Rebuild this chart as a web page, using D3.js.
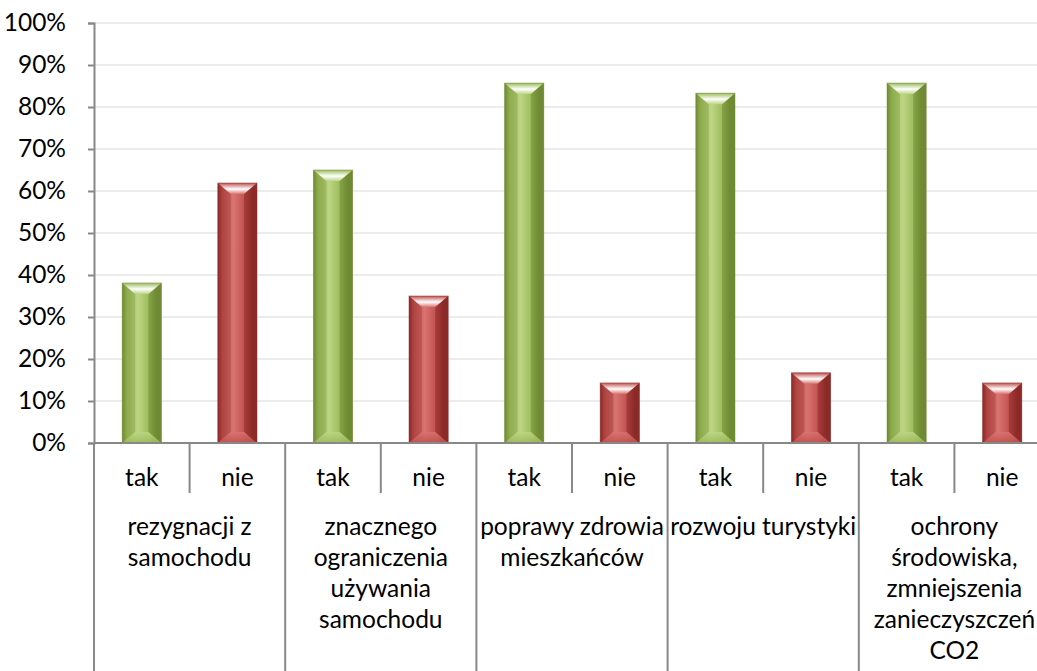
<!DOCTYPE html>
<html><head><meta charset="utf-8">
<script src="https://cdn.jsdelivr.net/npm/d3@7"></script>
<style>
html,body{margin:0;padding:0;background:#fff;overflow:hidden}
svg{display:block;font-family:Lato,"Open Sans",sans-serif}
</style></head>
<body><svg id="c" width="1037" height="671"></svg>
<script>
const groups = [
  ["rezygnacji z","samochodu"],
  ["znacznego","ograniczenia","używania","samochodu"],
  ["poprawy zdrowia","mieszkańców"],
  ["rozwoju turystyki"],
  ["ochrony","środowiska,","zmniejszenia","zanieczyszczeń","CO2"]
];
const answers = ["tak","nie"];
const values = [
  [0.381, 0.619],
  [0.650, 0.350],
  [0.857, 0.143],
  [0.833, 0.167],
  [0.857, 0.143]
];
const yTicks = [0,0.1,0.2,0.3,0.4,0.5,0.6,0.7,0.8,0.9,1.0];
const colors = {tak:["#6f8a33","#9bbb59","#bdd584","#ffffff"], nie:["#8c2a28","#c0504d","#d97471","#ffffff"]};

const FS = 24.5;
const svg = d3.select("#c");
const L = 94, R = 1050, T = 23, B = 443;
const slots = [];
groups.forEach((g,i)=>answers.forEach((a,j)=>slots.push({gi:i,a,v:values[i][j],key:i+"-"+a})));
const x = d3.scaleBand().domain(slots.map(d=>d.key)).range([L,R]).padding(0);
const xg = d3.scaleBand().domain(groups.map((g,i)=>i)).range([L,R]).padding(0);
const y = d3.scaleLinear().domain([0,1]).range([B,T]);

svg.append("g").selectAll("line").data(yTicks.slice(1)).join("line")
  .attr("x1",L).attr("x2",R).attr("y1",d=>y(d)).attr("y2",d=>y(d))
  .attr("stroke","#ececec").attr("stroke-width",2);

const ya = svg.append("g").attr("transform",`translate(${L},0)`)
  .call(d3.axisLeft(y).tickValues(yTicks).tickFormat(d3.format(".0%")).tickSize(6).tickPadding(22));
ya.select(".domain").attr("stroke","#888").attr("stroke-width",2);
ya.selectAll(".tick line").attr("stroke","#888").attr("stroke-width",2);
ya.selectAll("text").attr("font-size",FS).attr("fill","#000").attr("font-family","Lato, 'Open Sans', sans-serif");

const defs = svg.append("defs");
Object.entries(colors).forEach(([k,c])=>{
  const h = defs.append("linearGradient").attr("id","h-"+k).attr("x1",0).attr("x2",1).attr("y1",0).attr("y2",0);
  [[0,c[0]],[0.12,c[1]],[0.4,c[2]],[0.7,c[1]],[0.88,c[0]],[1,c[0]]].forEach(s=>h.append("stop").attr("offset",s[0]).attr("stop-color",s[1]));
  const t = defs.append("linearGradient").attr("id","t-"+k).attr("x1",0).attr("x2",0).attr("y1",0).attr("y2",1);
  [[0,c[1]],[0.55,c[3]],[1,c[2]]].forEach(s=>t.append("stop").attr("offset",s[0]).attr("stop-color",s[1]));
  const b = defs.append("linearGradient").attr("id","b-"+k).attr("x1",0).attr("x2",0).attr("y1",0).attr("y2",1);
  [[0,c[2]],[1,c[1]]].forEach(s=>b.append("stop").attr("offset",s[0]).attr("stop-color",s[1]));
});

const bw = x.bandwidth()*0.41;
const bars = svg.append("g").selectAll("g").data(slots).join("g")
  .attr("transform",d=>`translate(${x(d.key)+(x.bandwidth()-bw)/2},${y(d.v)})`);
bars.each(function(d){
  const g = d3.select(this);
  const h = B - y(d.v);
  const ix = 13, iy = 11;
  g.append("rect").attr("width",bw).attr("height",h).attr("fill",`url(#h-${d.a})`);
  g.append("polygon").attr("points",`0,0 ${ix},${iy} ${ix},${h-iy} 0,${h}`).attr("fill",colors[d.a][0]).attr("opacity",0.3);
  g.append("polygon").attr("points",`${bw},0 ${bw-ix},${iy} ${bw-ix},${h-iy} ${bw},${h}`).attr("fill",colors[d.a][0]).attr("opacity",0.55);
  g.append("polygon").attr("points",`0,0 ${bw},0 ${bw-ix},${iy} ${ix},${iy}`).attr("fill",`url(#t-${d.a})`);
  g.append("polygon").attr("points",`0,${h} ${ix},${h-iy} ${bw-ix},${h-iy} ${bw},${h}`).attr("fill",`url(#b-${d.a})`).attr("opacity",0.85);
  g.append("rect").attr("width",bw).attr("height",h).attr("fill","none").attr("stroke",colors[d.a][0]).attr("stroke-width",0.8).attr("opacity",0.6);
});

svg.append("line").attr("x1",L).attr("x2",R).attr("y1",B).attr("y2",B).attr("stroke","#888").attr("stroke-width",2);

svg.append("g").selectAll("line").data(groups.map((g,i)=>i)).join("line")
  .attr("x1",d=>x(d+"-nie")).attr("x2",d=>x(d+"-nie")).attr("y1",B).attr("y2",493)
  .attr("stroke","#888").attr("stroke-width",2);
svg.append("g").selectAll("line").data(d3.range(groups.length+1)).join("line")
  .attr("x1",d=>d<groups.length?xg(d):R).attr("x2",d=>d<groups.length?xg(d):R).attr("y1",B).attr("y2",671)
  .attr("stroke","#888").attr("stroke-width",2);

svg.append("g").selectAll("text").data(slots).join("text")
  .attr("x",d=>x(d.key)+x.bandwidth()/2).attr("y",486).attr("text-anchor","middle")
  .attr("font-size",FS).attr("fill","#000").text(d=>d.a);

const gl = svg.append("g").selectAll("text").data(groups).join("text")
  .attr("x",(d,i)=>xg(i)+xg.bandwidth()/2).attr("y",535).attr("text-anchor","middle")
  .attr("font-size",FS).attr("fill","#000");
gl.selectAll("tspan").data(d=>d).join("tspan")
  .attr("x",function(){return d3.select(this.parentNode).attr("x");})
  .attr("dy",(d,i)=>i?31:0).text(d=>d);
</script></body></html>
